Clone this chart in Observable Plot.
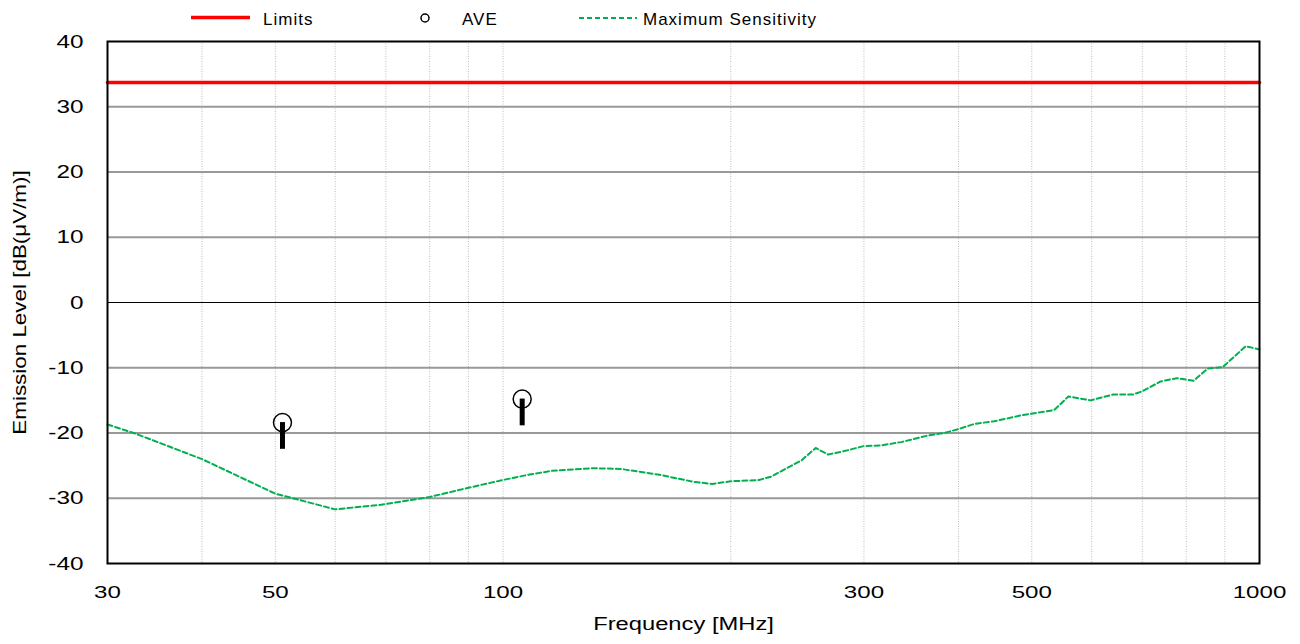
<!DOCTYPE html>
<html><head><meta charset="utf-8">
<script src="https://cdn.jsdelivr.net/npm/d3@7"></script>
<script src="https://cdn.jsdelivr.net/npm/@observablehq/plot@0.6"></script>
<style>
body{margin:0;background:#fff;font-family:"Liberation Sans",Arial,sans-serif;}
#legend{height:30px;width:1300px;}
#legend text{font-size:17px;letter-spacing:1px;fill:#000;}
</style></head><body>
<div id="legend">
<svg width="1300" height="30" style="display:block">
<line x1="191" x2="250" y1="17.5" y2="17.5" stroke="#ff0000" stroke-width="3.5"/>
<text x="263" y="25">Limits</text>
<circle cx="425" cy="18" r="4" fill="none" stroke="#000" stroke-width="1.5"/>
<text x="462" y="25">AVE</text>
<line x1="579" x2="637" y1="18" y2="18" stroke="#00b050" stroke-width="2" stroke-dasharray="5,3"/>
<text x="643" y="25">Maximum Sensitivity</text>
</svg></div>
<div id="chart"></div>
<script>
// Maximum Sensitivity (green dashed)
const msFreq  = [30, 32.5, 40, 50, 60, 69, 80, 90, 100, 108, 116, 131, 143, 161, 179, 189, 200, 218, 226, 238, 248, 259, 269, 282, 300, 316, 336, 364, 383, 400, 420, 446, 484, 514, 535, 559, 598, 641, 681, 700, 740, 778, 818, 855, 894, 959, 1000];
const msLevel = [-18.7, -20.0, -24.0, -29.3, -31.7, -31.0, -29.8, -28.4, -27.2, -26.4, -25.8, -25.4, -25.5, -26.4, -27.5, -27.8, -27.4, -27.2, -26.7, -25.3, -24.2, -22.3, -23.3, -22.8, -22.0, -21.9, -21.4, -20.4, -20.0, -19.4, -18.6, -18.2, -17.3, -16.8, -16.5, -14.4, -15.0, -14.1, -14.1, -13.6, -12.1, -11.6, -12.0, -10.1, -9.9, -6.7, -7.2];
// AVE measurements
const aveFreq  = [51.1, 106];
const aveLevel = [-18.4, -14.8];
const aveBarLow = [-22.5, -18.9];
// Limits
const limitFreq  = [30, 1000];
const limitLevel = [33.7, 33.7];
// Axes
const xTicks = [30, 50, 100, 300, 500, 1000];
const yTicks = [-40, -30, -20, -10, 0, 10, 20, 30, 40];
const gridFreq = [40, 50, 60, 70, 80, 90, 100, 200, 300, 400, 500, 600, 700, 800, 900];
const gridLevel = [-30, -20, -10, 10, 20, 30];
const zeroLevel = [0];

const ms = msFreq.map((f, i) => ({f, v: msLevel[i]}));
const ave = aveFreq.map((f, i) => ({f, v: aveLevel[i], lo: aveBarLow[i]}));
const lim = limitFreq.map((f, i) => ({f, v: limitLevel[i]}));
const fmt = d => String(d);

const chart = Plot.plot({
  width: 1300, height: 614,
  marginTop: 11, marginBottom: 81, marginLeft: 107, marginRight: 41,
  style: {fontFamily: '"Liberation Sans", Arial, sans-serif', fontSize: "17px", color: "#000", background: "#fff"},
  x: {type: "log", domain: [30, 1000]},
  y: {domain: [-40, 40]},
  marks: [
    Plot.ruleX(gridFreq, {stroke: "#bdbdbd", strokeWidth: 1, strokeDasharray: "1,1.5"}),
    Plot.ruleY(gridLevel, {stroke: "#999", strokeWidth: 2}),
    Plot.ruleY(zeroLevel, {stroke: "#000", strokeWidth: 1}),
    Plot.line(ms, {x: "f", y: "v", stroke: "#00b050", strokeWidth: 2, strokeDasharray: "5,3"}),
    Plot.line(lim, {x: "f", y: "v", stroke: "#ff0000", strokeWidth: 3.5}),
    Plot.ruleX(ave, {x: "f", y1: "v", y2: "lo", stroke: "#000", strokeWidth: 5}),
    Plot.dot(ave, {x: "f", y: "v", r: 9, stroke: "#000", strokeWidth: 1.5, fill: "none"}),
    Plot.frame({stroke: "#000", strokeWidth: 2}),
    Plot.axisX({ticks: xTicks, tickFormat: fmt, tickSize: 0, tickPadding: 22, label: "Frequency [MHz]", labelAnchor: "center", labelOffset: 66, labelArrow: "none"}),
    Plot.axisY({ticks: yTicks, tickFormat: fmt, tickSize: 0, tickPadding: 24, label: "Emission Level [dB(μV/m)]", labelAnchor: "center", labelOffset: 95, labelArrow: "none"})
  ]
});
document.getElementById("chart").appendChild(chart);

function stretch(sel, s, size) {
  const g = chart.querySelector(sel);
  if (!g) return;
  if (size) g.style.fontSize = size + "px";
  g.querySelectorAll("text").forEach(t => {
    const tr = t.getAttribute("transform") || "";
    const x = +(t.getAttribute("x") || 0), y = +(t.getAttribute("y") || 0);
    if (x || y) t.setAttribute("transform", `${tr} translate(${x},${y}) scale(${s},1) translate(${-x},${-y})`);
    else t.setAttribute("transform", `${tr} scale(${s},1)`);
  });
}
stretch('g[aria-label="x-axis tick label"]', 1.42, 17);
stretch('g[aria-label="y-axis tick label"]', 1.28, 19);
stretch('g[aria-label="x-axis label"]', 1.32, 18);
stretch('g[aria-label="y-axis label"]', 1.18, 19);
</script>
</body></html>
